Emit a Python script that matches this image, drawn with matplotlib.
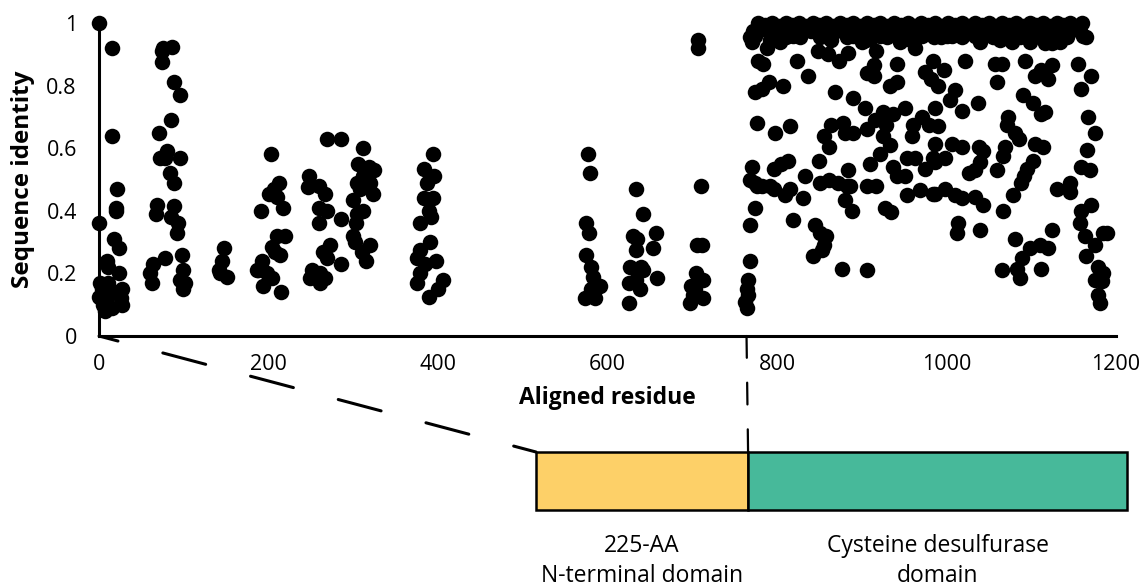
import matplotlib.pyplot as plt
from matplotlib.patches import ConnectionPatch

plt.rcParams['font.family'] = ['Open Sans', 'DejaVu Sans']

# N-terminal part of the alignment (scattered columns)
nterm_x = [0, 15, 15, 0, 21, 20, 20, 18, 24, 9, 10, 23, 1, 10, 27, 0, 9, 26, 27, 7, 15, 5, 17, 3,
           76, 86, 74, 74, 88, 95, 85, 71, 80, 72, 78, 95, 84, 89, 68, 67, 89, 85, 93, 92, 78, 64, 60, 62, 98, 99, 96, 101, 99,
           148, 145, 141, 151, 143,
           203, 212, 206, 200, 210, 217, 191, 210, 219, 204, 214, 192, 188, 198, 204, 194, 215, 186, 208,
           269, 286, 248, 247, 259, 267, 259, 269, 260, 286, 272, 264, 269, 286, 251, 261, 249, 267, 261,
           312, 306, 318, 324, 312, 304, 320, 308, 323, 300, 312, 304, 303, 300, 302, 320, 310, 315,
           394, 383, 395, 387, 383, 394, 389, 379, 392, 391, 379, 375, 398, 379, 375, 389, 406, 400, 385,
           577, 579, 575, 578, 575, 580, 583, 587, 581, 573, 585, 591, 584,
           633, 642, 630, 635, 634, 657, 654, 627, 642, 625, 634, 638, 658, 625, 640,
           707, 707, 710, 705, 711, 704, 713, 699, 701, 713, 697, 703]
nterm_y = [1.0, 0.92, 0.64, 0.36, 0.47, 0.41, 0.40, 0.31, 0.28, 0.24, 0.22, 0.20, 0.17, 0.17, 0.15, 0.125, 0.125, 0.12, 0.10, 0.08, 0.09, 0.10, 0.14, 0.15,
           0.92, 0.925, 0.91, 0.875, 0.81, 0.77, 0.69, 0.65, 0.59, 0.57, 0.57, 0.57, 0.52, 0.49, 0.42, 0.39, 0.415, 0.38, 0.36, 0.33, 0.25, 0.23, 0.20, 0.17, 0.26, 0.21, 0.18, 0.17, 0.15,
           0.28, 0.24, 0.21, 0.19, 0.20,
           0.58, 0.49, 0.47, 0.455, 0.445, 0.41, 0.40, 0.32, 0.32, 0.285, 0.26, 0.24, 0.21, 0.20, 0.185, 0.16, 0.14, 0.21, 0.27,
           0.63, 0.63, 0.51, 0.475, 0.48, 0.455, 0.41, 0.40, 0.36, 0.375, 0.29, 0.27, 0.25, 0.23, 0.21, 0.20, 0.185, 0.185, 0.17,
           0.60, 0.55, 0.54, 0.53, 0.51, 0.49, 0.49, 0.47, 0.455, 0.435, 0.40, 0.39, 0.36, 0.32, 0.30, 0.29, 0.27, 0.24,
           0.58, 0.535, 0.51, 0.49, 0.44, 0.44, 0.40, 0.36, 0.38, 0.30, 0.275, 0.25, 0.24, 0.20, 0.17, 0.125, 0.18, 0.15, 0.23,
           0.58, 0.52, 0.36, 0.33, 0.26, 0.22, 0.19, 0.16, 0.15, 0.12, 0.12, 0.16, 0.14,
           0.47, 0.39, 0.32, 0.31, 0.275, 0.33, 0.28, 0.22, 0.21, 0.17, 0.18, 0.15, 0.185, 0.105, 0.22,
           0.945, 0.92, 0.48, 0.29, 0.29, 0.20, 0.18, 0.16, 0.13, 0.12, 0.105, 0.15]

# cysteine desulfurase part of the alignment
cd_x = [766, 764, 766, 762, 764, 768, 768, 774, 770, 768, 776, 776, 774, 778,
        788, 783, 824, 837, 848, 860, 873, 884, 917, 963, 914, 906, 914, 942, 984, 975, 982, 997, 990,
        782, 790, 807, 868, 890, 904, 933, 942, 951,
        925, 937, 916, 929, 906, 925, 933,
        986, 971, 961, 979, 990, 959, 986,
        798, 815, 864, 878, 880, 890, 855, 861,
        796, 805, 813, 849, 774, 782, 792, 796,
        815, 809, 833, 831, 851, 861, 872, 882, 884, 886,
        906, 917, 910, 922, 937, 941, 951, 953, 963, 975, 984, 998,
        953, 969, 984, 998, 819, 880, 889, 927, 934,
        845, 851, 858, 856, 853, 842, 877, 906,
        1022, 1057, 1065, 1060, 1092, 1104, 1112, 1120, 1124, 1116, 1124, 1155, 1171, 1159,
        1010, 1004, 1018, 1037, 1090, 1102, 1112, 1116, 1072, 1071, 1081, 1085,
        1006, 1018, 986, 1038, 1043, 1040, 1034, 1026, 1069, 1067, 1059,
        1104, 1114, 1102, 1095, 1091, 1088, 1167, 1175, 1166, 1159, 1169,
        986, 1010, 1018, 1034, 1043, 1078, 1067, 1130, 1146, 1146,
        1014, 1012, 1040, 1081, 1099, 1110, 1120, 1124,
        1089, 1083, 1087, 1065, 1112,
        1159, 1171, 1157, 1163, 1175, 1165, 1185, 1189,
        1179, 1185, 1175, 1183, 1179, 1181]
cd_y = [0.18, 0.15, 0.13, 0.11, 0.09, 0.24, 0.355, 0.41, 0.54, 0.50, 0.48, 0.68, 0.78, 0.88,
        0.92, 0.87, 0.88, 0.83, 0.91, 0.90, 0.88, 0.905, 0.91, 0.92, 0.865, 0.84, 0.83, 0.87, 0.88, 0.845, 0.82, 0.85, 0.80,
        0.79, 0.81, 0.80, 0.78, 0.76, 0.73, 0.80, 0.81, 0.73,
        0.715, 0.71, 0.69, 0.675, 0.66, 0.64, 0.61,
        0.73, 0.70, 0.675, 0.675, 0.67, 0.64, 0.615,
        0.65, 0.67, 0.675, 0.68, 0.65, 0.65, 0.64, 0.605,
        0.535, 0.55, 0.56, 0.56, 0.49, 0.48, 0.48, 0.47,
        0.47, 0.45, 0.51, 0.44, 0.49, 0.50, 0.49, 0.48, 0.53, 0.48,
        0.48, 0.48, 0.55, 0.58, 0.54, 0.51, 0.51, 0.57, 0.57, 0.535, 0.57, 0.57,
        0.45, 0.465, 0.455, 0.47, 0.37, 0.435, 0.40, 0.41, 0.395,
        0.355, 0.33, 0.32, 0.29, 0.275, 0.255, 0.215, 0.21,
        0.88, 0.87, 0.87, 0.81, 0.88, 0.83, 0.85, 0.82, 0.865, 0.935, 0.935, 0.87, 0.83, 0.79,
        0.785, 0.755, 0.72, 0.745, 0.77, 0.745, 0.71, 0.715, 0.70, 0.675, 0.65, 0.63,
        0.615, 0.605, 0.555, 0.605, 0.59, 0.555, 0.53, 0.52, 0.605, 0.575, 0.53,
        0.615, 0.605, 0.56, 0.535, 0.51, 0.49, 0.70, 0.65, 0.595, 0.54, 0.53,
        0.455, 0.45, 0.44, 0.445, 0.42, 0.45, 0.40, 0.47, 0.49, 0.46,
        0.36, 0.33, 0.34, 0.31, 0.28, 0.29, 0.28, 0.34,
        0.25, 0.215, 0.185, 0.21, 0.215,
        0.40, 0.42, 0.36, 0.32, 0.29, 0.255, 0.33, 0.33,
        0.22, 0.20, 0.18, 0.175, 0.13, 0.105]

# near-identical columns packed at the top of the cysteine desulfurase region
top_x = [778, 786, 794, 802, 810, 818, 826, 834, 842, 850, 858, 866, 874, 882, 890, 898, 906, 914, 922, 930,
         938, 946, 954, 962, 970, 978, 986, 994, 1002, 1010, 1018, 1026, 1034, 1042, 1050, 1058, 1066, 1074,
         1082, 1090, 1098, 1106, 1114, 1122, 1130, 1138, 1146, 1154, 1160,
         768, 774, 811, 819, 827, 851, 857, 882, 890, 912, 921, 930, 971, 985, 1000, 994, 1006, 1018, 1034,
         1055, 1071, 1077, 1087, 1104, 1142, 1161, 1165,
         772, 782, 792, 800, 815, 830, 840, 855, 870, 885, 900, 925, 940, 950, 960, 980, 1010, 1025, 1045,
         1062, 1080, 1095, 1110, 1120, 1135, 1150, 1158,
         770, 792, 803, 864, 900, 905, 945, 958, 1040, 1063, 1098, 1125, 1134]
top_y = [1.0, 0.995, 1.0, 0.99, 1.0, 0.995, 1.0, 0.99, 1.0, 0.995, 1.0, 0.99, 1.0, 0.995, 1.0, 0.99, 1.0, 0.995, 1.0, 0.99,
         1.0, 0.995, 1.0, 0.99, 1.0, 0.995, 1.0, 0.99, 1.0, 0.995, 1.0, 0.99, 1.0, 0.995, 1.0, 0.99, 1.0, 0.995,
         1.0, 0.99, 1.0, 0.995, 1.0, 0.99, 1.0, 0.995, 1.0, 0.99, 1.0,
         0.955, 0.96, 0.955, 0.96, 0.955, 0.955, 0.96, 0.955, 0.96, 0.955, 0.96, 0.955, 0.96, 0.955, 0.96,
         0.955, 0.96, 0.955, 0.96, 0.955, 0.96, 0.94, 0.955, 0.96, 0.955, 0.96, 0.955,
         0.975, 0.98, 0.975, 0.98, 0.975, 0.98, 0.975, 0.98, 0.975, 0.98, 0.975, 0.98, 0.975, 0.98, 0.975,
         0.98, 0.975, 0.98, 0.975, 0.98, 0.975, 0.98, 0.975, 0.98, 0.975, 0.98, 0.975,
         0.94, 0.945, 0.94, 0.945, 0.94, 0.945, 0.94, 0.945, 0.94, 0.945, 0.94, 0.945, 0.94]

x_ticks = [0, 200, 400, 600, 800, 1000, 1200]
y_ticks = [0, 0.2, 0.4, 0.6, 0.8, 1]
y_tick_labels = ['0', '0.2', '0.4', '0.6', '0.8', '1']

# protein schematic
domain_names = ['225-AA\nN-terminal domain', 'Cysteine desulfurase\ndomain']
domain_start = [0, 225]
domain_len = [225, 402]
domain_colors = ['#FDD068', '#47B99A']
boundary_aligned = 764   # alignment column where the N-terminal domain ends

fig = plt.figure(figsize=(11.45, 5.86), dpi=100)
ax = fig.add_axes([0.0865, 0.4266, 0.8882, 0.5341])

ax.scatter(nterm_x + cd_x + top_x, nterm_y + cd_y + top_y, s=125, c='black',
           linewidths=0, clip_on=False, zorder=3)
ax.set_xlim(0, 1200)
ax.set_ylim(0, 1)
for side in ['top', 'right']:
    ax.spines[side].set_visible(False)
for side in ['left', 'bottom']:
    ax.spines[side].set_linewidth(2.2)
ax.set_xticks(x_ticks)
ax.set_yticks(y_ticks, y_tick_labels)
ax.tick_params(length=0, labelsize=15.5)
ax.tick_params(axis='y', pad=16)
ax.tick_params(axis='x', pad=13)
ax.set_xlabel('Aligned residue', fontsize=16.5, fontweight='bold', labelpad=8)
ax.set_ylabel('Sequence identity', fontsize=17.5, fontweight='bold', labelpad=8)

bx = fig.add_axes([536 / 1145, 76 / 586, 591 / 1145, 58 / 586])
bx.barh(0.5, domain_len, left=domain_start, height=1, color=domain_colors,
        edgecolor='black', linewidth=1.8, clip_on=False)
bx.set_xlim(0, sum(domain_len))
bx.set_ylim(0, 1)
bx.axis('off')
for name, start, length in zip(domain_names, domain_start, domain_len):
    bx.text(start + length / 2, -0.42, name, ha='center', va='top', fontsize=16.5, linespacing=1.3)

lw = 2.2
diag = ConnectionPatch(xyA=(0, 0), coordsA=ax.transData, xyB=(0, 1), coordsB=bx.transData,
                       color='black', lw=lw, linestyle=(8.1, (14.5, 15.2)), zorder=1)
fig.add_artist(diag)
vert = ConnectionPatch(xyA=(boundary_aligned, 0), coordsA=ax.transData, xyB=(domain_start[1], 1),
                       coordsB=bx.transData, color='black', lw=1.6, linestyle=(0, (9.8, 11.2)), zorder=1)
fig.add_artist(vert)

fig.savefig('out.png', dpi=100)
